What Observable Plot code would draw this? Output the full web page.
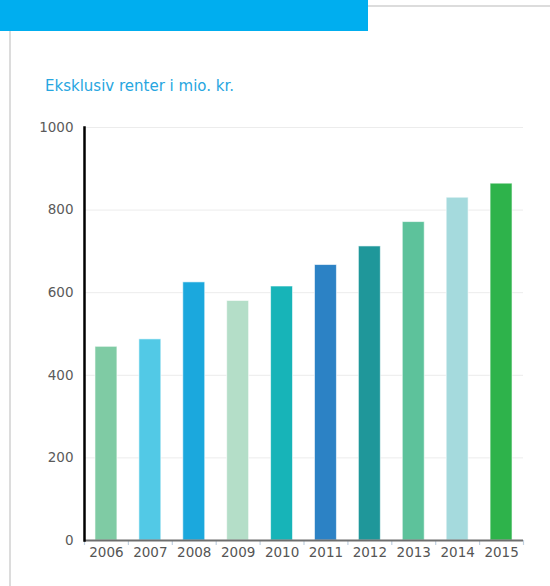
<!DOCTYPE html>
<html>
<head>
<meta charset="utf-8">
<script src="https://cdn.jsdelivr.net/npm/d3@7"></script>
<script src="https://cdn.jsdelivr.net/npm/@observablehq/plot@0.6"></script>
<style>
  html, body { margin: 0; padding: 0; background: #fff; width: 550px; height: 586px; overflow: hidden; }
  body { position: relative; font-family: "DejaVu Sans", sans-serif; }
  #header { position: absolute; left: 0; top: 0; width: 368px; height: 31px; background: #00aeef; z-index: 2; }
  #topline { position: absolute; left: 368px; top: 5px; width: 182px; height: 2px; background: #dcdcdc; z-index: 2; }
  #leftline { position: absolute; left: 9px; top: 31px; width: 2px; height: 555px; background: #dcdcdc; z-index: 2; }
  #subtitle { position: absolute; left: 45px; top: 77px; font-size: 15px; color: #27a6df; z-index: 2; white-space: nowrap; }
  #chart { position: absolute; left: 0; top: 0; }
</style>
</head>
<body>
<div id="header"></div>
<div id="topline"></div>
<div id="leftline"></div>
<div id="subtitle">Eksklusiv renter i mio. kr.</div>
<div id="chart"></div>
<script>
const years = ["2006","2007","2008","2009","2010","2011","2012","2013","2014","2015"];
const values = [469, 487, 625, 580, 615, 667, 712, 771, 830, 864];
const colors = ["#7fcba4","#52c9e6","#1ba8dd","#b4dec8","#17b4b8","#2c82c5","#1f979a","#5dc29b","#a5dadd","#2eb34b"];
const yTicks = [0, 200, 400, 600, 800, 1000];

const data = years.map((y, i) => ({year: y, value: values[i]}));

const W = 550, H = 586;
const mL = 84, mR = 27, mT = 127, mB = 46;
const step = (W - mL - mR) / (years.length - 0.5 + 0.5);
const frameH = H - mT - mB;

const chart = Plot.plot({
  width: W,
  height: H,
  marginLeft: mL,
  marginRight: mR,
  marginTop: mT,
  marginBottom: mB,
  style: {fontFamily: "DejaVu Sans, sans-serif", fontSize: "13.5px", background: "transparent", overflow: "visible"},
  x: {domain: years, paddingInner: 0.5, paddingOuter: 0.25, round: false, label: null},
  y: {domain: [0, 1000], label: null},
  color: {type: "ordinal", domain: years, range: colors},
  marks: [
    Plot.ruleY(yTicks.filter(d => d > 0), {stroke: "#ececec", strokeWidth: 1}),
    Plot.barY(data, {x: "year", y: "value", fill: "year", stroke: "#ffffff", strokeWidth: 1, strokeOpacity: 0.6}),
    Plot.axisY({ticks: yTicks, tickSize: 0, tickPadding: 11, tickFormat: d => String(d), fill: "#5a5a5a", fontSize: 13.5}),
    Plot.axisX({tickSize: 0, tickPadding: 7, fill: "#555555", fontSize: 13.5}),
    Plot.ruleX(years, {x: d => d, dx: -step / 2, stroke: "#c0d0e0", strokeWidth: 1.2, insetTop: frameH, insetBottom: -5}),
    Plot.ruleX(years.slice(-1), {x: d => d, dx: step / 2, stroke: "#c0d0e0", strokeWidth: 1.2, insetTop: frameH, insetBottom: -5}),
    Plot.ruleY([0], {stroke: "#6e6e6e", strokeWidth: 2}),
    Plot.frame({anchor: "left", stroke: "#000", strokeWidth: 2.5})
  ]
});
document.getElementById("chart").appendChild(chart);
</script>
</body>
</html>
